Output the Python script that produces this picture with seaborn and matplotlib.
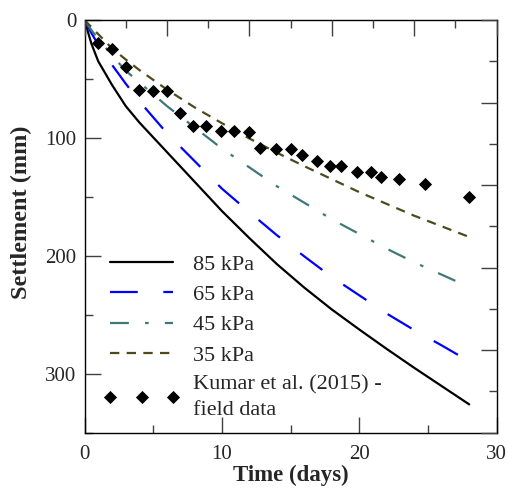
import matplotlib
matplotlib.use("Agg")
import matplotlib.pyplot as plt
import seaborn as sns
import numpy as np
import pandas as pd
from matplotlib.ticker import MultipleLocator

# ---- data ----
time_days = [0, 0.5, 1, 2, 3, 4, 6, 8, 10, 12, 14, 16, 18, 20, 22, 24, 26, 28]
s_85 = [0, 20, 35, 55, 73, 87, 112, 137, 162, 185, 207, 227, 245.5, 262.5, 279, 295, 310.5, 326]
s_65 = [0, 11, 21, 38, 54, 69, 96, 119.5, 143, 163, 182.5, 200.5, 218, 233.5, 249, 263, 276, 289.5]
s_45 = [0, 8.5, 16, 30, 43, 53, 73, 91, 109, 125, 141, 155, 169, 181.5, 194, 205.5, 216, 226.5]
s_35 = [0, 6, 12, 24, 33.5, 42.5, 59, 74, 87.5, 100.5, 112.5, 124, 135, 146, 156, 166, 175, 184]

field_t = [1.0, 2.0, 3.0, 4.0, 4.95, 6.0, 6.95, 7.9, 8.85, 9.9, 10.9, 11.95, 12.8, 13.95,
           15.05, 15.85, 16.95, 17.85, 18.65, 19.8, 20.85, 21.6, 22.9, 24.8, 27.95]
field_s = [19.8, 24.9, 39.6, 59.4, 60, 60, 79.2, 89.6, 89.6, 94.1, 94.1, 94.7, 108.8, 109.7,
           109.7, 114.5, 119.3, 123.8, 123.8, 128.7, 129.3, 132.9, 134.9, 139.4, 149.9]

labels = ["85 kPa", "65 kPa", "45 kPa", "35 kPa"]
field_label = "Kumar et al. (2015) -\nfield data"

sns.set_theme(style="white")
plt.rcParams["font.family"] = ["Liberation Serif", "DejaVu Serif"]

fig = plt.figure(figsize=(5.08, 4.90), dpi=100)
ax = fig.add_axes([84.5 / 508, 1 - 432.7 / 490, (496.7 - 84.5) / 508, (432.7 - 20) / 490])

lw = 1.6
styles = [
    dict(color="black", linestyle="-"),
    dict(color="#0000ff", linestyle=(0, (12.5, 11.5))),
    dict(color="#407878", linestyle=(0, (8.5, 7.3, 1.6, 7.3))),
    dict(color="#4f4a1c", linestyle=(0, (4.2, 3.3))),
]
for s, lab, st in zip([s_85, s_65, s_45, s_35], labels, styles):
    df = pd.DataFrame({"t": time_days, "s": s})
    sns.lineplot(data=df, x="t", y="s", ax=ax, label=lab, linewidth=lw, **st)

fdf = pd.DataFrame({"t": field_t, "s": field_s})
ax.plot(fdf["t"], fdf["s"], linestyle="none", marker="D", markersize=6.5,
        color="black", markeredgewidth=0.6, label=field_label)

ax.set_xlim(0, 30)
ax.set_ylim(350, 0)
ax.xaxis.set_major_locator(MultipleLocator(10))
ax.xaxis.set_minor_locator(MultipleLocator(5))
ax.yaxis.set_major_locator(MultipleLocator(100))
ax.yaxis.set_minor_locator(MultipleLocator(50))
ax.tick_params(which="both", direction="in", color="#404040", width=1.0)
ax.tick_params(which="major", length=11.5, labelsize=15)
ax.tick_params(axis="x", which="major", pad=8.5)
ax.tick_params(axis="y", which="major", pad=6)
ax.tick_params(which="minor", length=6)
ax.tick_params(axis="both", which="both", top=False, right=False)

for sp in ax.spines.values():
    sp.set_color("black")
    sp.set_linewidth(1.0)

# top and right secondary ticks
axt = ax.twiny()
axt.set_xlim(0, 30)
axt.xaxis.set_major_locator(MultipleLocator(6))
axt.xaxis.set_minor_locator(MultipleLocator(3))
axt.tick_params(which="both", direction="in", color="#404040", width=1.0, labeltop=False, top=True)
axt.tick_params(which="major", length=11.5)
axt.tick_params(which="minor", length=6)
axr = ax.twinx()
axr.set_ylim(350, 0)
axr.yaxis.set_major_locator(MultipleLocator(70))
axr.yaxis.set_minor_locator(MultipleLocator(35))
axr.tick_params(which="both", direction="in", color="#404040", width=1.0, labelright=False, right=True)
axr.tick_params(which="major", length=11.5)
axr.tick_params(which="minor", length=6)
for a in (axt, axr):
    for sp in a.spines.values():
        sp.set_visible(False)

ax.set_xlabel("Time (days)", fontsize=16.5, fontweight="bold", labelpad=1)
ax.set_ylabel("Settlement (mm)", fontsize=17.5, fontweight="bold")
ax.yaxis.set_label_coords(-0.128, 0.535)

leg = ax.legend(loc="upper left", bbox_to_anchor=(0.0, 0.478), frameon=False,
                fontsize=16, handlelength=3.45, numpoints=3, labelspacing=0.435,
                handletextpad=0.6, borderaxespad=0.45)
leg.get_texts()[-1].set_linespacing(1.45)

fig.savefig("out.png", dpi=100)
